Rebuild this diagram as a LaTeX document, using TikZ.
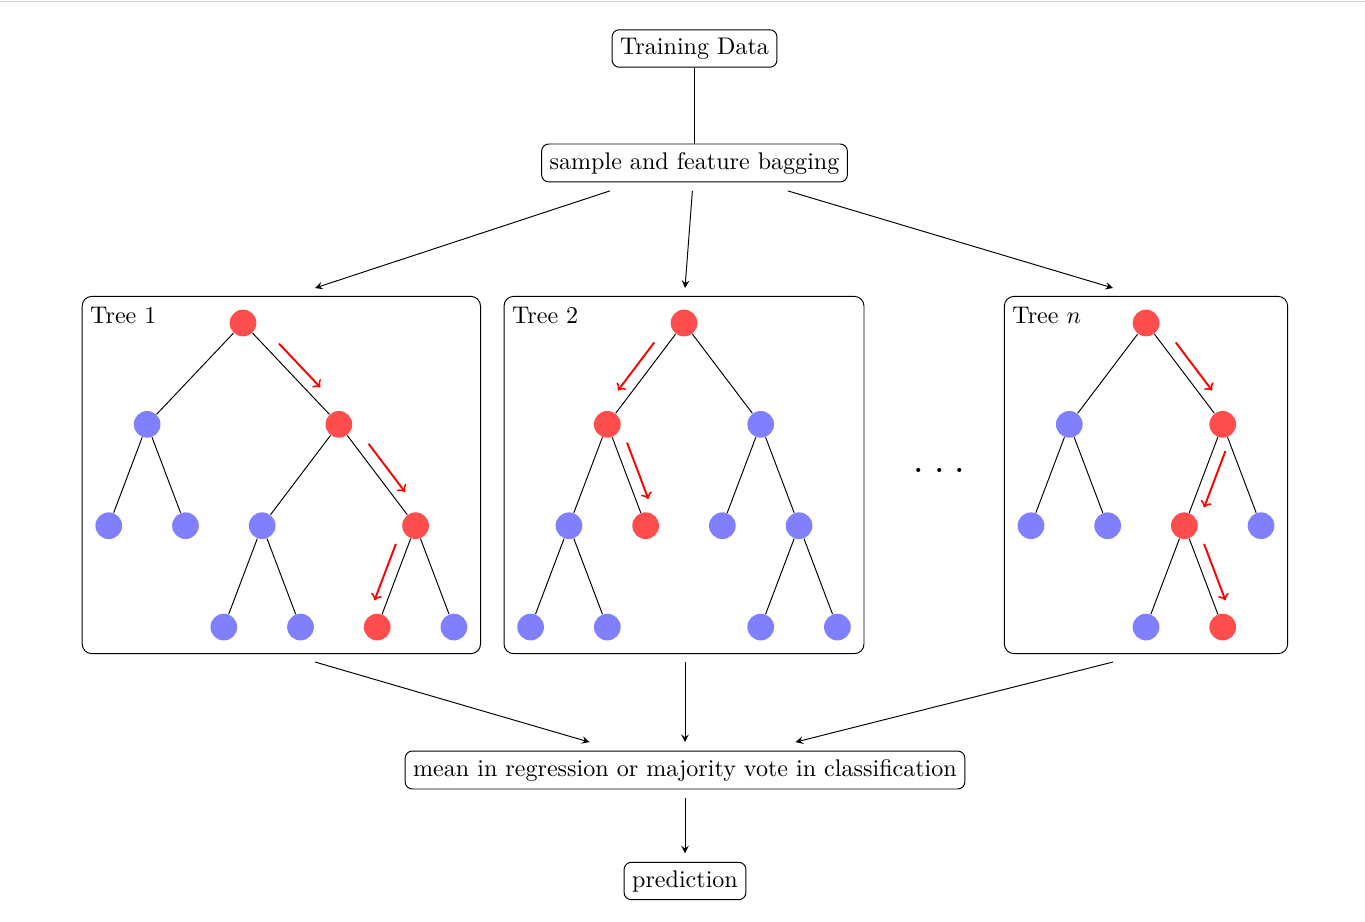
\documentclass[tikz,border=0pt]{standalone}
\usepackage{amsmath}
\usetikzlibrary{arrows, positioning, backgrounds, fit, calc}
\tikzset{%
	box/.style={draw, rectangle, rounded corners=3pt},
	hub/.style={box, outer sep=3.7pt},
	leaf/.style={circle, minimum size=3.9mm, inner sep=0mm, fill=blue!50},
	hot/.style={leaf, fill=red!70},
	treebox/.style={draw, rectangle, rounded corners=4pt, inner sep=5.3pt},
	edge/.style={thin},
	flow/.style={-stealth},
	walk/.style={->, thick, red, to path={%
		($(\tikztostart)!.5!(\tikztotarget)!.44cm!180:(\tikztotarget)!.175cm!#1:(\tikztotarget)$)
		-- ($(\tikztostart)!.5!(\tikztotarget)!.44cm!(\tikztotarget)!.175cm!#1:(\tikztotarget)$)}}
}
\begin{document}
\begin{tikzpicture}[x=0.0146cm, y=-0.0146cm, on grid, node distance=1.48cm and 0.56cm]
	\useasboundingbox (0,0) rectangle (1365,922);
	\draw[gray!40] (0,1) -- (1365,1);

	\node[box] (data) at (694.5,48.5) {Training Data};
	\node[hub] (bag) at (694.5,163) {sample and feature bagging};
	\node[hub] (vote) at (685,770) {mean in regression or majority vote in classification};
	\node[hub] (pred) at (685,881) {prediction};

	% tree 1
	\node[hot] (t1) at (243,323) {};
	\node[leaf, node distance=1.48cm and 1.4cm] (t1-l) [below left=of t1] {};
	\node[hot, node distance=1.48cm and 1.4cm] (t1-r) [below right=of t1] {};
	\node[leaf] (t1-l-l) [below left=of t1-l] {};
	\node[leaf] (t1-l-r) [below right=of t1-l] {};
	\node[leaf, node distance=1.48cm and 1.12cm] (t1-r-l) [below left=of t1-r] {};
	\node[hot, node distance=1.48cm and 1.12cm] (t1-r-r) [below right=of t1-r] {};
	\node[leaf] (t1-r-l-l) [below left=of t1-r-l] {};
	\node[leaf] (t1-r-l-r) [below right=of t1-r-l] {};
	\node[hot] (t1-r-r-l) [below left=of t1-r-r] {};
	\node[leaf] (t1-r-r-r) [below right=of t1-r-r] {};

	% tree 2
	\node[hot] (t2) at (684,323) {};
	\node[hot, node distance=1.48cm and 1.12cm] (t2-l) [below left=of t2] {};
	\node[leaf, node distance=1.48cm and 1.12cm] (t2-r) [below right=of t2] {};
	\node[leaf] (t2-l-l) [below left=of t2-l] {};
	\node[hot] (t2-l-r) [below right=of t2-l] {};
	\node[leaf] (t2-r-l) [below left=of t2-r] {};
	\node[leaf] (t2-r-r) [below right=of t2-r] {};
	\node[leaf] (t2-l-l-l) [below left=of t2-l-l] {};
	\node[leaf] (t2-l-l-r) [below right=of t2-l-l] {};
	\node[leaf] (t2-r-r-l) [below left=of t2-r-r] {};
	\node[leaf] (t2-r-r-r) [below right=of t2-r-r] {};

	% tree n
	\node[hot] (tn) at (1146,323) {};
	\node[leaf, node distance=1.48cm and 1.12cm] (tn-l) [below left=of tn] {};
	\node[hot, node distance=1.48cm and 1.12cm] (tn-r) [below right=of tn] {};
	\node[leaf] (tn-l-l) [below left=of tn-l] {};
	\node[leaf] (tn-l-r) [below right=of tn-l] {};
	\node[hot] (tn-r-l) [below left=of tn-r] {};
	\node[leaf] (tn-r-r) [below right=of tn-r] {};
	\node[leaf] (tn-r-l-l) [below left=of tn-r-l] {};
	\node[hot] (tn-r-l-r) [below right=of tn-r-l] {};

	\node[anchor=base, inner sep=0pt] (dots) at (939.5,472) {\huge.\kern3.4pt.\kern3.4pt.};

	\coordinate (t1-in) at (315,288);
	\coordinate (t2-in) at (685,288);
	\coordinate (tn-in) at (1113,288);
	\coordinate (t1-out) at (315,662);
	\coordinate (t2-out) at (685,662);
	\coordinate (tn-out) at (1113,662);

	\draw[shorten >=-3.7pt] (data) -- (bag);
	\draw[flow] (bag) -- (t1-in);
	\draw[flow] (bag) -- (t2-in);
	\draw[flow] (bag) -- (tn-in);
	\draw[flow] (t1-out) -- (vote);
	\draw[flow] (t2-out) -- (vote);
	\draw[flow] (tn-out) -- (vote);
	\draw[flow] (vote) -- (pred);

	\draw[edge] (t1) -- (t1-l) (t1) -- (t1-r);
	\draw[edge] (t1-l) -- (t1-l-l) (t1-l) -- (t1-l-r);
	\draw[edge] (t1-r) -- (t1-r-l) (t1-r) -- (t1-r-r);
	\draw[edge] (t1-r-l) -- (t1-r-l-l) (t1-r-l) -- (t1-r-l-r);
	\draw[edge] (t1-r-r) -- (t1-r-r-l) (t1-r-r) -- (t1-r-r-r);
	\draw[edge] (t2) -- (t2-l) (t2) -- (t2-r);
	\draw[edge] (t2-l) -- (t2-l-l) (t2-l) -- (t2-l-r);
	\draw[edge] (t2-r) -- (t2-r-l) (t2-r) -- (t2-r-r);
	\draw[edge] (t2-l-l) -- (t2-l-l-l) (t2-l-l) -- (t2-l-l-r);
	\draw[edge] (t2-r-r) -- (t2-r-r-l) (t2-r-r) -- (t2-r-r-r);
	\draw[edge] (tn) -- (tn-l) (tn) -- (tn-r);
	\draw[edge] (tn-l) -- (tn-l-l) (tn-l) -- (tn-l-r);
	\draw[edge] (tn-r) -- (tn-r-l) (tn-r) -- (tn-r-r);
	\draw[edge] (tn-r-l) -- (tn-r-l-l) (tn-r-l) -- (tn-r-l-r);

	\draw[walk=90] (t1) to (t1-r);
	\draw[walk=90] (t1-r) to (t1-r-r);
	\draw[walk=-90] (t1-r-r) to (t1-r-r-l);
	\draw[walk=-90] (t2) to (t2-l);
	\draw[walk=90] (t2-l) to (t2-l-r);
	\draw[walk=90] (tn) to (tn-r);
	\draw[walk=90] (tn-r) to (tn-r-l);
	\draw[walk=90] (tn-r-l) to (tn-r-l-r);

	\begin{scope}[on background layer]
		\node[treebox, fit=(t1) (t1-l-l) (t1-r-r-r) (t1-r-l-l),
			label={[anchor=north west, yshift=-1pt]north west:Tree 1}] (tree1) {};
		\node[treebox, fit=(t2) (t2-l-l-l) (t2-r-r-r),
			label={[anchor=north west, yshift=-1pt]north west:Tree 2}] (tree2) {};
		\node[treebox, fit=(tn) (tn-l-l) (tn-r-r) (tn-r-l-l),
			label={[anchor=north west, yshift=-1pt]north west:Tree $n$}] (treen) {};
	\end{scope}
\end{tikzpicture}
\end{document}
